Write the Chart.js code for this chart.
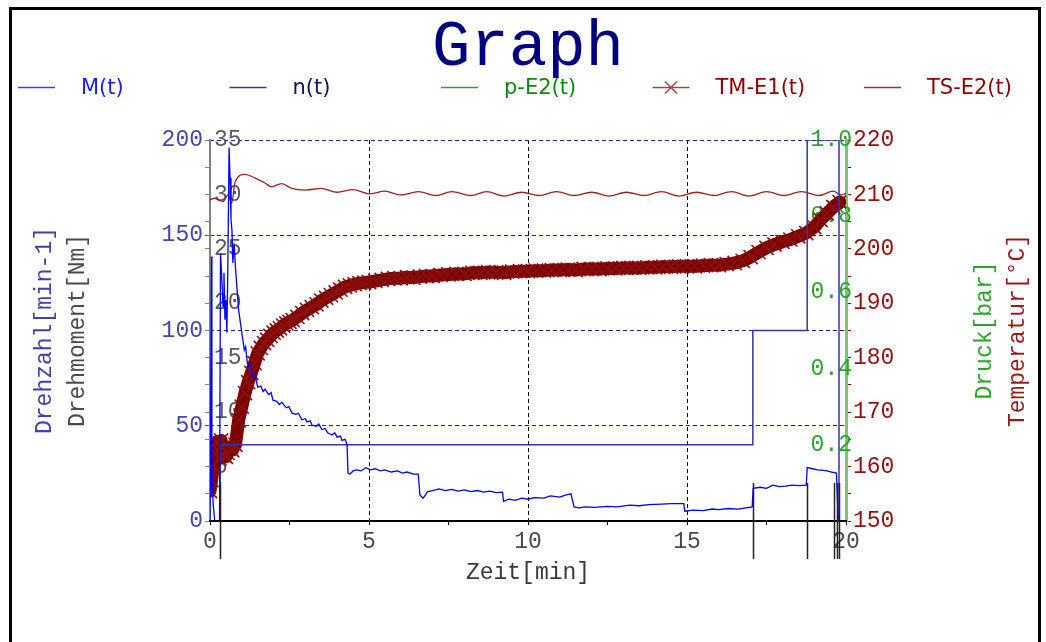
<!DOCTYPE html>
<html>
<head>
<meta charset="utf-8">
<script src="https://cdn.jsdelivr.net/npm/chart.js@4.4.1/dist/chart.umd.min.js"></script>
<style>
  html, body { margin: 0; padding: 0; background: #fff; }
  #wrap { width: 1046px; height: 642px; }
</style>
</head>
<body>
<div id="wrap"><canvas id="graph" width="1046" height="642"></canvas></div>
<script>
// Messlauf: Drehmoment, Drehzahl, Druck und Temperaturen über der Zeit
var seriesNames = ['M(t)', 'n(t)', 'p-E2(t)', 'TM-E1(t)', 'TS-E2(t)'];

var xTickLabels = [0, 5, 10, 15, 20];
var rpmTickLabels = [0, 50, 100, 150, 200];
var nmTickLabels = [5, 10, 15, 20, 25, 30, 35];
var barTickLabels = [0.2, 0.4, 0.6, 0.8, 1.0];
var tempTickLabels = [150, 160, 170, 180, 190, 200, 210, 220];

// M(t) [Nm]
var mTime = [0, 0.05, 0.06, 0.10, 0.15, 0.30, 0.33, 0.37, 0.41, 0.44,
    0.47, 0.50, 0.53, 0.56, 0.60, 0.63, 0.66, 0.69, 0.72, 0.76,
    0.80, 0.90, 1.00, 1.08, 1.12, 1.19, 1.25, 1.35, 1.42, 1.50,
    1.60, 1.67, 1.73, 1.85, 1.92, 1.98, 2.10, 2.18, 2.26, 2.40,
    2.48, 2.58, 2.70, 2.78, 2.89, 3.00, 3.05, 3.15, 3.21, 3.35,
    3.42, 3.52, 3.62, 3.70, 3.84, 3.92, 4.00, 4.10, 4.15, 4.25,
    4.31, 4.34, 4.40, 4.50, 4.60, 4.75, 4.90, 5.05, 5.20, 5.35,
    5.50, 5.70, 5.90, 6.05, 6.20, 6.40, 6.55, 6.60, 6.70, 6.85,
    7.00, 7.20, 7.40, 7.60, 7.80, 8.00, 8.20, 8.40, 8.60, 8.80,
    9.00, 9.20, 9.23, 9.40, 9.60, 9.80, 10.00, 10.20, 10.50, 10.70,
    11.00, 11.20, 11.35, 11.45, 11.60, 11.80, 12.10, 12.50, 12.80, 13.20,
    13.50, 13.80, 14.20, 14.50, 14.90, 14.93, 15.20, 15.50, 15.80, 16.00,
    16.30, 16.60, 17.05, 17.08, 17.30, 17.50, 17.70, 17.90, 18.10, 18.30,
    18.50, 18.75, 18.78, 18.95, 19.10, 19.30, 19.40, 19.55, 19.70, 19.75,
    19.80, 20.00];
var mTorque = [0, 24.3, 5.0, 1.5, 0, 0, 24.6, 22.4, 19.7, 22.8,
    18.5, 20.3, 17.3, 23.0, 34.3, 31.5, 27.7, 26.7, 23.7, 25.5,
    23.3, 19.4, 17.3, 15.7, 16.0, 14.1, 14.4, 13.2, 13.4, 12.3,
    12.4, 11.9, 12.1, 11.6, 11.8, 11.1, 11.0, 10.7, 10.9, 10.4,
    10.5, 9.9, 9.8, 9.9, 9.3, 9.4, 9.1, 9.2, 8.8, 8.7,
    8.9, 8.4, 8.5, 8.1, 7.9, 8.1, 7.7, 7.8, 7.4, 7.5,
    7.0, 4.4, 4.3, 4.6, 4.7, 4.6, 4.9, 4.7, 4.8, 4.6,
    4.7, 4.5, 4.6, 4.4, 4.5, 4.3, 4.3, 2.4, 2.1, 2.7,
    2.8, 2.95, 2.8, 2.9, 2.75, 2.85, 2.7, 2.8, 2.65, 2.75,
    2.6, 2.65, 1.8, 2.0, 1.9, 2.1, 2.0, 2.15, 2.1, 2.3,
    2.2, 2.4, 2.5, 1.3, 1.2, 1.3, 1.25, 1.35, 1.3, 1.45,
    1.4, 1.5, 1.55, 1.6, 1.6, 0.9, 1.0, 0.95, 1.1, 1.05,
    1.15, 1.1, 1.3, 3.0, 3.1, 3.0, 3.3, 3.15, 3.2, 3.3,
    3.25, 3.3, 4.9, 4.8, 4.7, 4.65, 4.6, 4.5, 4.4, 0.5,
    0, 0];

// n(t) [min-1]
var nTime = [0, 0.32, 0.32, 17.07, 17.07, 18.78, 18.78, 19.78, 19.78, 20];
var nSpeed = [0, 0, 40, 40, 100, 100, 200, 200, 0, 0];

// p-E2(t) [bar]
var pTime = [0, 20];
var pBar = [0, 0];

// TM-E1(t) [°C]
var tmTime = [
    0.00, 0.05, 0.10, 0.15, 0.20, 0.25, 0.30, 0.35, 0.40, 0.45,
    0.50, 0.55, 0.60, 0.70, 0.80, 0.90, 1.00, 1.10, 1.20, 1.30,
    1.40, 1.50, 1.60, 1.70, 1.80, 1.90, 2.00, 2.10, 2.20, 2.30,
    2.40, 2.50, 2.60, 2.75, 2.90, 3.05, 3.20, 3.35, 3.50, 3.65,
    3.80, 3.95, 4.10, 4.25, 4.40, 4.55, 4.70, 4.85, 5.00, 5.20,
    5.40, 5.60, 5.80, 6.00, 6.20, 6.40, 6.60, 6.80, 7.00, 7.25,
    7.50, 7.75, 8.00, 8.25, 8.50, 8.75, 9.00, 9.25, 9.50, 9.75,
    10.00, 10.25, 10.50, 10.75, 11.00, 11.25, 11.50, 11.75, 12.00, 12.25,
    12.50, 12.75, 13.00, 13.25, 13.50, 13.75, 14.00, 14.25, 14.50, 14.75,
    15.00, 15.25, 15.50, 15.75, 16.00, 16.25, 16.50, 16.75, 17.00, 17.25,
    17.50, 17.75, 18.00, 18.25, 18.50, 18.75, 19.00, 19.20, 19.40, 19.60,
    19.80];
var tmTemp = [
    155.5, 157.5, 160.0, 162.5, 164.5, 163.0, 161.5, 164.8, 163.5, 162.0,
    161.8, 162.5, 163.5, 163.0, 164.0, 168.5, 171.0, 173.5, 175.5, 177.2,
    179.0, 180.8, 181.8, 182.7, 183.3, 184.0, 184.6, 185.0, 185.4, 185.9,
    186.3, 186.6, 186.9, 187.5, 188.2, 188.8, 189.3, 189.8, 190.5, 191.0,
    191.5, 192.0, 192.5, 193.0, 193.3, 193.5, 193.7, 193.8, 193.9, 194.1,
    194.3, 194.5, 194.6, 194.6, 194.8, 194.7, 194.9, 195.0, 195.0, 195.2,
    195.3, 195.4, 195.4, 195.6, 195.6, 195.7, 195.7, 195.6, 195.8, 195.9,
    195.9, 196.0, 196.0, 196.1, 196.1, 196.2, 196.1, 196.3, 196.3, 196.3,
    196.4, 196.4, 196.5, 196.5, 196.5, 196.6, 196.6, 196.7, 196.7, 196.8,
    196.8, 196.8, 196.9, 197.0, 197.0, 197.2, 197.4, 197.8, 198.5, 199.4,
    200.2, 200.8, 201.3, 201.7, 202.3, 202.9, 204.0, 205.3, 206.5, 207.7,
    208.6];

// TS-E2(t) [°C]
var tsTime = [0, 0.15, 0.3, 0.41, 0.57, 0.68, 0.79, 1.1, 1.42, 1.73,
    1.94, 2.25, 2.57, 3.0, 3.5, 4.0, 4.5, 5.0, 5.5, 6.0,
    6.55, 7.1, 7.6, 8.2, 8.7, 9.25, 9.8, 10.35, 10.9, 11.45,
    12.0, 12.55, 13.1, 13.65, 14.2, 14.75, 15.3, 15.85, 16.4, 16.95,
    17.5, 18.05, 18.6, 19.15, 19.6, 19.85, 20];
var tsTemp = [209.0, 209.3, 208.9, 208.7, 209.9, 208.4, 212.3, 213.7, 213.0, 212.1,
    211.4, 212.0, 211.1, 210.8, 211.1, 210.4, 210.9, 210.1, 210.6, 209.9,
    210.5, 209.8, 210.5, 209.8, 210.5, 209.7, 210.4, 209.8, 210.5, 209.8,
    210.4, 209.7, 210.4, 209.8, 210.5, 209.7, 210.4, 209.8, 210.5, 209.7,
    210.5, 209.8, 210.5, 209.8, 210.6, 209.9, 210.2];

// Ereignismarken (Schaltpunkte) [min]
var eventTimes = [0.33, 17.07, 18.78, 19.63, 19.71, 19.78];

var MONO = '"Courier New", "Liberation Mono", monospace';

function toPoints(xs, ys) {
    return xs.map(function(x, i) { return { x: x, y: ys[i] }; });
}

function hasLabel(list, v) {
    return list.some(function(b) { return Math.abs(b - v) < 1e-6; });
}

// Rahmen, Überschrift, Legende, zusätzliche Achsentitel, Ereignislinien
var decorations = {
    id: 'decorations',
    afterDraw: function(chart) {
        var ctx = chart.ctx;
        var area = chart.chartArea;
        var x = chart.scales.x;
        var yRpm = chart.scales.yRpm;

        ctx.save();

        // Ereignislinien um die Zeitachse
        var y0 = yRpm.getPixelForValue(0);
        ctx.strokeStyle = '#222';
        ctx.lineWidth = 1.5;
        eventTimes.forEach(function(t) {
            var px = Math.round(x.getPixelForValue(t)) + 0.5;
            ctx.beginPath();
            ctx.moveTo(px, y0 - 38);
            ctx.lineTo(px, y0 + 38);
            ctx.stroke();
        });

        // Rahmen
        ctx.strokeStyle = '#000';
        ctx.lineWidth = 3;
        ctx.beginPath();
        ctx.moveTo(10.5, 642);
        ctx.lineTo(10.5, 8.5);
        ctx.lineTo(1039.5, 8.5);
        ctx.lineTo(1039.5, 642);
        ctx.stroke();

        // Überschrift
        ctx.fillStyle = '#000080';
        ctx.font = '64px ' + MONO;
        ctx.textAlign = 'center';
        ctx.textBaseline = 'alphabetic';
        ctx.fillText('Graph', 528, 65);

        // Legende
        ctx.font = '21px "DejaVu Sans", sans-serif';
        ctx.textAlign = 'left';
        ctx.textBaseline = 'middle';
        chart.data.datasets.forEach(function(ds, i) {
            var lx = 18 + i * 211.5;
            var ly = 87.5;
            ctx.strokeStyle = ds.legendLine;
            ctx.lineWidth = 1.5;
            ctx.beginPath();
            ctx.moveTo(lx, ly);
            ctx.lineTo(lx + 37, ly);
            ctx.stroke();
            if (ds.pointStyle === 'crossRot') {
                var cx = lx + 18.5;
                ctx.beginPath();
                ctx.moveTo(cx - 6, ly - 6); ctx.lineTo(cx + 6, ly + 6);
                ctx.moveTo(cx - 6, ly + 6); ctx.lineTo(cx + 6, ly - 6);
                ctx.stroke();
            }
            ctx.fillStyle = ds.legendText;
            ctx.fillText(ds.label, lx + 63, ly + 1);
        });

        // Achsentitel ohne eigene Skalenbox
        var midY = (area.top + area.bottom) / 2;
        ctx.font = '23px ' + MONO;
        ctx.textAlign = 'center';
        ctx.textBaseline = 'middle';
        [
            { text: 'Drehmoment[Nm]', x: area.left - 132, color: '#4a4a4a' },
            { text: 'Druck[bar]', x: area.right + 139, color: '#2aa52a' },
            { text: 'Temperatur[°C]', x: area.right + 172, color: '#9a1a1a' }
        ].forEach(function(t) {
            ctx.save();
            ctx.translate(t.x, midY);
            ctx.rotate(-Math.PI / 2);
            ctx.fillStyle = t.color;
            ctx.fillText(t.text, 0, 0);
            ctx.restore();
        });

        ctx.restore();
    }
};

var ctx = document.getElementById('graph').getContext('2d');

window.graph = new Chart(ctx, {
    type: 'line',
    data: {
        datasets: [{
            label: seriesNames[0],
            data: toPoints(mTime, mTorque),
            yAxisID: 'yNm',
            borderColor: '#0000ff',
            borderWidth: 1.3,
            pointRadius: 0,
            legendLine: '#3c3cff',
            legendText: '#1a1aff'
        }, {
            label: seriesNames[1],
            data: toPoints(nTime, nSpeed),
            yAxisID: 'yRpm',
            borderColor: '#3535a5',
            borderWidth: 1.5,
            pointRadius: 0,
            legendLine: '#3a3a8a',
            legendText: '#101070'
        }, {
            label: seriesNames[2],
            data: toPoints(pTime, pBar),
            yAxisID: 'yBar',
            borderColor: '#2a9a2a',
            borderWidth: 1.5,
            pointRadius: 0,
            legendLine: '#3a9a3a',
            legendText: '#108a10'
        }, {
            label: seriesNames[3],
            data: toPoints(tmTime, tmTemp),
            yAxisID: 'yTemp',
            borderColor: '#7d0000',
            borderWidth: 13,
            borderJoinStyle: 'round',
            borderCapStyle: 'round',
            pointStyle: 'crossRot',
            pointRadius: 10,
            pointBorderWidth: 1.6,
            pointBorderColor: '#8a1010',
            legendLine: '#a04848',
            legendText: '#8b0000'
        }, {
            label: seriesNames[4],
            data: toPoints(tsTime, tsTemp),
            yAxisID: 'yTemp',
            borderColor: '#992222',
            borderWidth: 1.3,
            pointRadius: 0,
            cubicInterpolationMode: 'monotone',
            legendLine: '#a03030',
            legendText: '#8b0000'
        }]
    },
    options: {
        responsive: false,
        animation: false,
        devicePixelRatio: 1,
        layout: {
            padding: { left: 31, right: 14, top: 140, bottom: 55 }
        },
        plugins: {
            legend: { display: false },
            title: { display: false },
            tooltip: { enabled: false }
        },
        scales: {
            x: {
                type: 'linear',
                min: 0,
                max: 20,
                afterFit: function(s) { s.height = 66; },
                grid: {
                    color: function(c) {
                        return (c.tick && c.tick.value > 0 && c.tick.value < 20 && c.tick.value % 5 === 0) ? '#000' : 'rgba(0,0,0,0)';
                    },
                    lineWidth: 1,
                    tickColor: '#000',
                    tickLength: 4
                },
                border: { color: '#000', width: 2, dash: [4, 3], z: 1 },
                ticks: {
                    stepSize: 2.5,
                    autoSkip: false,
                    maxRotation: 0,
                    padding: 3,
                    color: '#4a4a4a',
                    font: { family: MONO, size: 23 },
                    callback: function(v) { return hasLabel(xTickLabels, v) ? String(v) : ''; }
                },
                title: {
                    display: true,
                    text: 'Zeit[min]',
                    color: '#3a3a3a',
                    padding: 0,
                    font: { family: MONO, size: 23 }
                }
            },
            yRpm: {
                type: 'linear',
                position: 'left',
                weight: 1,
                min: 0,
                max: 200,
                afterFit: function(s) { s.width = 179; },
                grid: {
                    color: function(c) {
                        return (c.tick && c.tick.value > 0) ? '#2020a0' : 'rgba(0,0,0,0)';
                    },
                    lineWidth: 1,
                    tickColor: '#4545b0',
                    tickLength: 5
                },
                border: { display: false, dash: [4, 3] },
                ticks: {
                    stepSize: 50,
                    autoSkip: false,
                    padding: 2,
                    color: '#4545b0',
                    font: { family: MONO, size: 23 },
                    callback: function(v) { return hasLabel(rpmTickLabels, v) ? String(v) : ''; }
                },
                title: {
                    display: true,
                    text: 'Drehzahl[min-1]',
                    color: '#4040b0',
                    padding: 0,
                    font: { family: MONO, size: 23 }
                }
            },
            yNm: {
                type: 'linear',
                position: 'left',
                weight: 0,
                min: 0,
                max: 35,
                afterFit: function(s) { s.width = 0; },
                grid: {
                    drawOnChartArea: false,
                    tickColor: '#808080',
                    tickLength: 5
                },
                border: { color: '#808080', width: 2 },
                ticks: {
                    stepSize: 2.5,
                    autoSkip: false,
                    mirror: true,
                    padding: 4,
                    color: '#5a5a5a',
                    font: { family: MONO, size: 23 },
                    callback: function(v) { return hasLabel(nmTickLabels, v) ? String(v) : ''; }
                }
            },
            yBar: {
                type: 'linear',
                position: 'right',
                weight: 0,
                min: 0,
                max: 1,
                afterFit: function(s) { s.width = 0; },
                grid: { drawOnChartArea: false, drawTicks: false },
                border: { color: '#80c080', width: 3 },
                ticks: {
                    stepSize: 0.2,
                    autoSkip: false,
                    mirror: true,
                    padding: 6,
                    color: '#2aa52a',
                    font: { family: MONO, size: 23 },
                    callback: function(v) { return hasLabel(barTickLabels, v) ? v.toFixed(1) : ''; }
                }
            },
            yTemp: {
                type: 'linear',
                position: 'right',
                weight: 1,
                min: 150,
                max: 220,
                afterFit: function(s) { s.width = 186; },
                grid: {
                    drawOnChartArea: false,
                    tickColor: '#8b0000',
                    tickLength: 5
                },
                border: { display: false },
                ticks: {
                    stepSize: 5,
                    autoSkip: false,
                    padding: 2,
                    color: '#941010',
                    font: { family: MONO, size: 23 },
                    callback: function(v) { return hasLabel(tempTickLabels, v) ? String(v) : ''; }
                }
            }
        }
    },
    plugins: [decorations]
});
</script>
</body>
</html>
